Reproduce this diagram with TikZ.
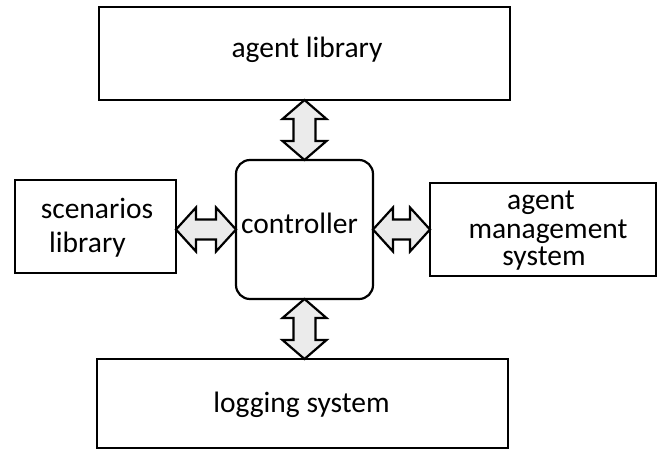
\documentclass[tikz,border=0pt]{standalone}
\usepackage{fontspec}
\setmainfont{Carlito}
\usetikzlibrary{calc}
\definecolor{arrowgray}{HTML}{EBEBEB}
\tikzset{
  box/.style={draw=black, line width=2.2pt, fill=white, rectangle, inner sep=0pt, outer sep=0pt},
  ctlbox/.style={box, rounded corners=14pt},
  lbl/.style={anchor=base, inner sep=0pt, font=\fontsize{29.5}{32}\selectfont},
  blockarrow/.style={draw=black, line width=2.2pt, fill=arrowgray, line join=miter, miter limit=10},
}
% two-headed block arrow, #1 above #2
\newcommand\vbiarrow[2]{%
  \draw[blockarrow] (#1) -- ($(#1)+(22,19)$) -- ($(#1)+(11,19)$) -- ($(#2)+(11,-19)$)
    -- ($(#2)+(22,-19)$) -- (#2) -- ($(#2)+(-22,-19)$) -- ($(#2)+(-11,-19)$)
    -- ($(#1)+(-11,19)$) -- ($(#1)+(-22,19)$) -- cycle;}
% two-headed block arrow, #1 left of #2
\newcommand\hbiarrow[2]{%
  \draw[blockarrow] (#1) -- ($(#1)+(20,-22)$) -- ($(#1)+(20,-10)$) -- ($(#2)+(-20,-10)$)
    -- ($(#2)+(-20,-22)$) -- (#2) -- ($(#2)+(-20,22)$) -- ($(#2)+(-20,10)$)
    -- ($(#1)+(20,10)$) -- ($(#1)+(20,22)$) -- cycle;}
\begin{document}
\begin{tikzpicture}[x=1pt, y=-1pt]
  \fill[white] (0,0) rectangle (660,450);
  \useasboundingbox (0,0) rectangle (660,450);

  % blocks
  \node[box, minimum width=411pt, minimum height=93pt] (al) at (304.5,53.5) {};
  \node[ctlbox, minimum width=137pt, minimum height=139pt] (ctl) at (304.5,229.5) {};
  \node[box, minimum width=161pt, minimum height=93pt] (scn) at (95.5,226.5) {};
  \node[box, minimum width=226pt, minimum height=93pt] (ams) at (543,229.5) {};
  \node[box, minimum width=411pt, minimum height=89pt] (lg) at (302.75,403.5) {};

  % labels
  \node[lbl] (t-al) at (307,57) {agent library};
  \node[lbl] (t-ctl) at (299.5,233.5) {controller};
  \node[lbl] (t-sc1) at (97,218) {scenarios};
  \node[lbl] (t-sc2) at (87.5,252) {library};
  \node[lbl] (t-am1) at (541,209) {agent};
  \node[lbl] (t-am2) at (548,238) {management};
  \node[lbl] (t-am3) at (544,265) {system};
  \node[lbl] (t-lg) at (301.5,412) {logging system};

  % connectors
  \coordinate (scn-r) at (scn.east |- ctl.west);
  \coordinate (lg-t) at (lg.north -| ctl.south);
  \vbiarrow{al.south}{ctl.north}
  \vbiarrow{ctl.south}{lg-t}
  \hbiarrow{scn-r}{ctl.west}
  \hbiarrow{ctl.east}{ams.west}
\end{tikzpicture}
\end{document}
